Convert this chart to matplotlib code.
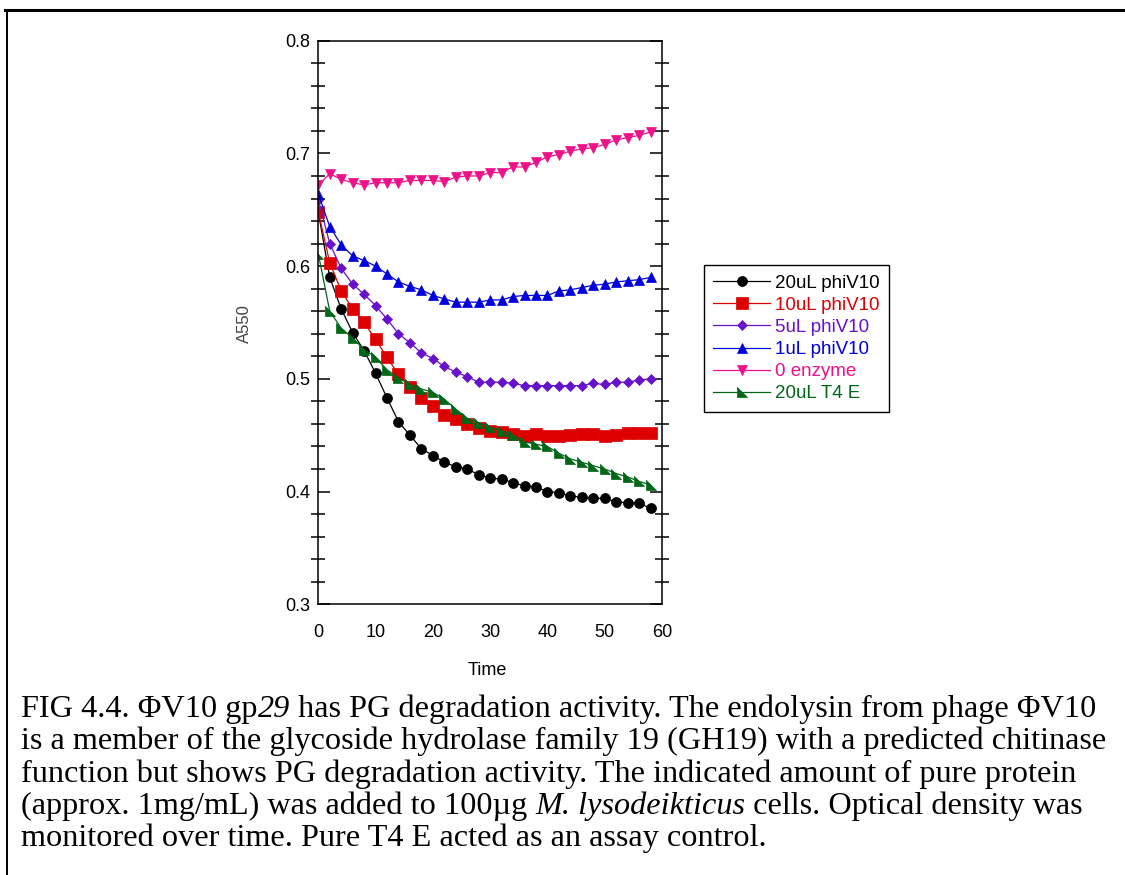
import numpy as np
import matplotlib
matplotlib.use("Agg")
import matplotlib.pyplot as plt
from matplotlib.lines import Line2D
from matplotlib.ticker import MultipleLocator

plt.rcParams["font.family"] = ["Liberation Sans", "DejaVu Sans"]

# time points (min)
time = np.arange(0, 60, 2)

# A550 readings
phiv10_20ul = [0.648, 0.590, 0.562, 0.541, 0.525, 0.505, 0.483, 0.462, 0.450, 0.438,
               0.432, 0.426, 0.422, 0.420, 0.415, 0.412, 0.411, 0.408, 0.405, 0.404,
               0.400, 0.399, 0.396, 0.395, 0.394, 0.394, 0.391, 0.390, 0.390, 0.385]
phiv10_10ul = [0.648, 0.603, 0.578, 0.562, 0.550, 0.535, 0.519, 0.504, 0.493, 0.483,
               0.476, 0.468, 0.464, 0.460, 0.456, 0.454, 0.453, 0.451, 0.449, 0.451,
               0.449, 0.449, 0.450, 0.451, 0.451, 0.449, 0.450, 0.452, 0.452, 0.452]
phiv10_5ul = [0.659, 0.620, 0.598, 0.584, 0.575, 0.565, 0.553, 0.540, 0.532, 0.523,
              0.518, 0.511, 0.506, 0.502, 0.497, 0.497, 0.497, 0.496, 0.494, 0.494,
              0.494, 0.494, 0.494, 0.494, 0.496, 0.495, 0.497, 0.497, 0.499, 0.500]
phiv10_1ul = [0.664, 0.635, 0.619, 0.609, 0.605, 0.600, 0.593, 0.586, 0.582, 0.579,
              0.574, 0.571, 0.568, 0.568, 0.568, 0.570, 0.570, 0.573, 0.574, 0.574,
              0.574, 0.578, 0.579, 0.581, 0.583, 0.584, 0.586, 0.587, 0.588, 0.590]
no_enzyme = [0.672, 0.682, 0.677, 0.674, 0.672, 0.674, 0.674, 0.674, 0.676, 0.676,
             0.676, 0.675, 0.679, 0.680, 0.680, 0.683, 0.683, 0.688, 0.688, 0.692,
             0.697, 0.699, 0.702, 0.704, 0.705, 0.708, 0.712, 0.714, 0.716, 0.719]
t4e_20ul = [0.611, 0.560, 0.545, 0.536, 0.526, 0.519, 0.508, 0.501, 0.495, 0.491,
            0.488, 0.482, 0.473, 0.465, 0.461, 0.457, 0.454, 0.450, 0.444, 0.442,
            0.440, 0.434, 0.429, 0.426, 0.423, 0.420, 0.416, 0.413, 0.409, 0.406]

labels = ["20uL phiV10", "10uL phiV10", "5uL phiV10", "1uL phiV10", "0 enzyme", "20uL T4 E"]
colors = ["#000000", "#dd0000", "#6611cc", "#0000dd", "#ee1188", "#006618"]

ramp = [(-1, 1), (-1, -1), (1, -1), (-1, 1)]
markers = ["o", "s", "D", "^", "v", ramp]
msizes = [7.2, 8.6, 5.0, 7.2, 7.2, 7.2]

caption = [
    [("FIG 4.4. \u03a6V10 gp", "normal"), ("29", "italic"),
     (" has PG degradation activity. The endolysin from phage \u03a6V10", "normal")],
    [("is a member of the glycoside hydrolase family 19 (GH19) with a predicted chitinase", "normal")],
    [("function but shows PG degradation activity. The indicated amount of pure protein", "normal")],
    [("(approx. 1mg/mL) was added to 100\u00b5g ", "normal"), ("M. lysodeikticus", "italic"),
     (" cells. Optical density was", "normal")],
    [("monitored over time. Pure T4 E acted as an assay control.", "normal")],
]

W, H = 1125, 875
fig = plt.figure(figsize=(W / 100, H / 100), dpi=100)
ax = fig.add_axes([318.3 / W, 1 - 604.3 / H, (662 - 318.3) / W, (604.3 - 40.7) / H])

series = [phiv10_20ul, phiv10_10ul, phiv10_5ul, phiv10_1ul, no_enzyme, t4e_20ul]
for vals, lab, c, m, ms in zip(series, labels, colors, markers, msizes):
    ax.plot(time, vals, color=c, marker=m, markersize=ms, lw=0.9, label=lab,
            markeredgewidth=0.5)

ax.set_xlim(0, 60)
ax.set_ylim(0.3, 0.8)
ax.xaxis.set_major_locator(MultipleLocator(10))
ax.yaxis.set_major_locator(MultipleLocator(0.1))
ax.yaxis.set_minor_locator(MultipleLocator(0.02))
ax.tick_params(axis="x", length=0, pad=14.5, labelsize=13)
ax.tick_params(axis="y", which="major", direction="in", length=8.5, width=1.1,
               left=True, right=True, pad=6, labelsize=13)
ax.tick_params(axis="y", which="minor", direction="inout", length=10, width=1.1,
               left=True, right=True)
for sp in ax.spines.values():
    sp.set_linewidth(1.1)

fig.text(487 / W, 1 - 675 / H, "Time", ha="center", va="baseline", fontsize=13)
fig.text(244 / W, 1 - 324 / H, "A550", ha="center", va="center", rotation=90,
         fontsize=12, color="#444444")

leg = ax.legend(loc="upper left", bbox_to_anchor=(704 / W, 1 - 265 / H),
                bbox_transform=fig.transFigure, borderaxespad=0, fancybox=False,
                edgecolor="black", framealpha=1, handlelength=3.0, handletextpad=0.28,
                labelspacing=0.27, borderpad=0.5, fontsize=13.5, labelcolor="linecolor",
                numpoints=1)
leg.get_frame().set_linewidth(1.0)

# outer frame of the page figure
fig.add_artist(Line2D([5 / W, 1], [1 - 10 / H] * 2, color="black", lw=2.2,
                      transform=fig.transFigure))
fig.add_artist(Line2D([7 / W] * 2, [1 - 10 / H, 0], color="black", lw=1.4,
                      transform=fig.transFigure))

# caption, drawn piece by piece so italics can sit inline
fig.canvas.draw()
rend = fig.canvas.get_renderer()
cap_size = 23.2


def text_width(s, style):
    t = fig.text(0, 0, "|" + s + "|", family="Liberation Serif", style=style, fontsize=cap_size)
    bar = fig.text(0, 0, "||", family="Liberation Serif", style=style, fontsize=cap_size)
    w = t.get_window_extent(rend).width - bar.get_window_extent(rend).width
    t.remove()
    bar.remove()
    return w


for i, line in enumerate(caption):
    x = 21
    y = 717 + 32.3 * i
    for s, style in line:
        fig.text(x / W, 1 - y / H, s, family="Liberation Serif", style=style,
                 fontsize=cap_size, ha="left", va="baseline")
        x += text_width(s, style)

fig.savefig("out.png", dpi=100)
